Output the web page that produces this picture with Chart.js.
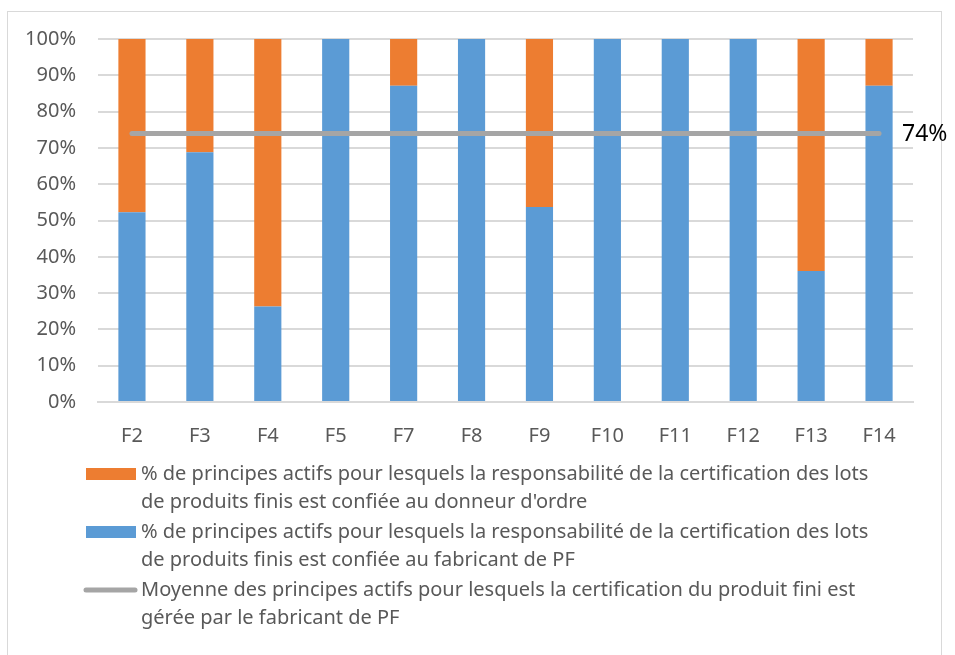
<!DOCTYPE html>
<html>
<head>
<meta charset="utf-8">
<script src="https://cdn.jsdelivr.net/npm/chart.js@4/dist/chart.umd.min.js"></script>
<style>
  body { margin: 0; background: #fff; }
  #wrap { position: relative; width: 955px; height: 655px; }
</style>
</head>
<body>
<div id="wrap"><canvas id="myChart"></canvas></div>
<script>
var categories = ["F2", "F3", "F4", "F5", "F7", "F8", "F9", "F10", "F11", "F12", "F13", "F14"];
// % confié au fabricant de PF (bas de la barre)
var fabricant = [52.3, 68.8, 26.3, 100, 87.1, 100, 53.7, 100, 100, 100, 36.1, 87.1];
// % confié au donneur d'ordre (haut de la barre)
var donneur = [47.7, 31.2, 73.7, 0, 12.9, 0, 46.3, 0, 0, 0, 63.9, 12.9];
// moyenne
var moyenne = [74, 74, 74, 74, 74, 74, 74, 74, 74, 74, 74, 74];
var yTicks = [0, 10, 20, 30, 40, 50, 60, 70, 80, 90, 100];

var labelDonneur = "% de principes actifs pour lesquels la responsabilité de la certification des lots de produits finis est confiée au donneur d'ordre";
var labelFabricant = "% de principes actifs pour lesquels la responsabilité de la certification des lots de produits finis est confiée au fabricant de PF";
var labelMoyenne = "Moyenne des principes actifs pour lesquels la certification du produit fini est gérée par le fabricant de PF";

var blue = "#5b9bd5", orange = "#ed7d31", grey = "#a5a5a5";
var textGrey = "#595959";
var fontFam = "'Noto Sans', sans-serif";

function wrapText(ctx, text, maxW) {
  var words = text.split(" "), lines = [], cur = "";
  for (var i = 0; i < words.length; i++) {
    var test = cur ? cur + " " + words[i] : words[i];
    if (ctx.measureText(test).width > maxW && cur) {
      lines.push(cur);
      cur = words[i];
    } else cur = test;
  }
  if (cur) lines.push(cur);
  return lines;
}

// frame + legend + value label
var extras = {
  id: "extras",
  beforeDraw: function (chart) {
    var c = chart.ctx;
    c.save();
    c.strokeStyle = "#d9d9d9";
    c.lineWidth = 1;
    c.strokeRect(7.5, 11.5, 934, 700);
    c.restore();
  },
  afterDatasetsDraw: function (chart) {
    var c = chart.ctx;
    var meta = chart.getDatasetMeta(0);
    var last = meta.data[meta.data.length - 1];
    c.save();
    c.fillStyle = "#000";
    c.font = "23px " + fontFam;
    c.textBaseline = "middle";
    c.textAlign = "left";
    c.fillText(moyenne[moyenne.length - 1] + "%", last.x + 23, last.y + 1);
    c.restore();
  },
  afterDraw: function (chart) {
    var c = chart.ctx;
    var items = [
      { ds: chart.data.datasets[2], y: 474, kind: "box" },
      { ds: chart.data.datasets[1], y: 532, kind: "box" },
      { ds: chart.data.datasets[0], y: 590, kind: "line" }
    ];
    c.save();
    c.font = "20px " + fontFam;
    c.textBaseline = "middle";
    c.textAlign = "left";
    items.forEach(function (it) {
      if (it.kind === "box") {
        c.fillStyle = it.ds.backgroundColor;
        c.fillRect(86, it.y - 6, 50, 12);
      } else {
        c.strokeStyle = it.ds.borderColor;
        c.lineWidth = 5;
        c.lineCap = "round";
        c.beginPath();
        c.moveTo(86, it.y);
        c.lineTo(135, it.y);
        c.stroke();
      }
      c.fillStyle = textGrey;
      var lines = wrapText(c, it.ds.label, 745);
      lines.forEach(function (ln, k) {
        c.fillText(ln, 141, it.y + k * 28);
      });
    });
    c.restore();
  }
};

var ctx = document.getElementById("myChart").getContext("2d");
var chart = new Chart(ctx, {
  type: "bar",
  data: {
    labels: categories,
    datasets: [
      {
        type: "line",
        label: labelMoyenne,
        data: moyenne,
        stack: "avg",
        borderColor: grey,
        borderWidth: 5,
        borderCapStyle: "round",
        pointRadius: 0,
        pointHoverRadius: 0,
        fill: false,
        order: 0
      },
      {
        label: labelFabricant,
        data: fabricant,
        stack: "bars",
        backgroundColor: blue,
        order: 1
      },
      {
        label: labelDonneur,
        data: donneur,
        stack: "bars",
        backgroundColor: orange,
        order: 1
      }
    ]
  },
  options: {
    responsive: true,
    maintainAspectRatio: false,
    animation: false,
    layout: { padding: { top: 39, right: 42, bottom: 193, left: 0 } },
    plugins: {
      legend: { display: false },
      tooltip: { enabled: false }
    },
    datasets: {
      bar: { barPercentage: 0.4, categoryPercentage: 1.0 }
    },
    scales: {
      x: {
        stacked: true,
        grid: { display: false, drawTicks: false },
        border: { display: true, color: "#d9d9d9", width: 2 },
        ticks: { color: textGrey, font: { family: fontFam, size: 20 }, padding: 22, maxRotation: 0 },
        afterFit: function (s) { s.height = 60; }
      },
      y: {
        stacked: true,
        min: 0,
        max: 100,
        grid: { color: "#d9d9d9", lineWidth: 2, drawTicks: false },
        border: { display: false },
        afterBuildTicks: function (s) { s.ticks = yTicks.map(function (v) { return { value: v }; }); },
        ticks: {
          color: textGrey,
          font: { family: fontFam, size: 20 },
          padding: 22,
          callback: function (v) { return v + "%"; }
        },
        afterFit: function (s) { s.width = 98; }
      }
    }
  },
  plugins: [extras]
});
</script>
</body>
</html>
